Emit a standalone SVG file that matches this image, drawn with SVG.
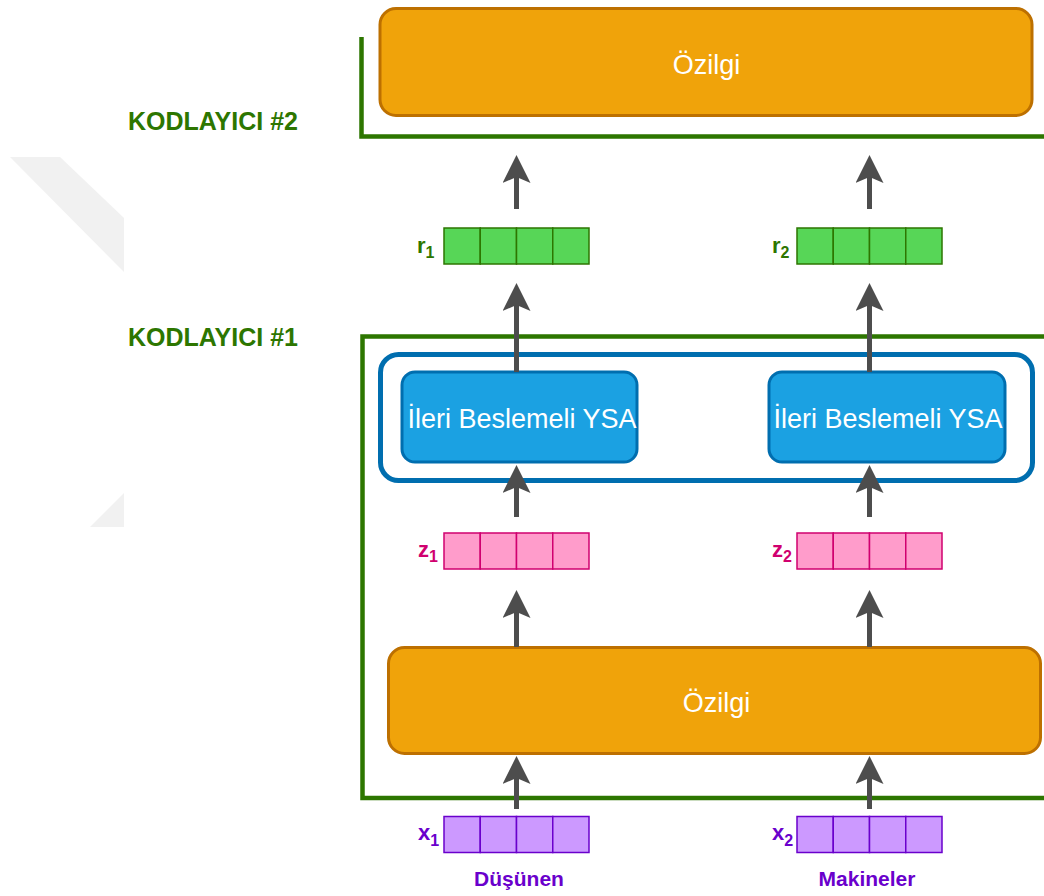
<svg xmlns="http://www.w3.org/2000/svg" width="1044" height="896" viewBox="0 0 1044 896">
<defs>
<style>
.lbl{font-family:"Liberation Sans",Arial,Helvetica,sans-serif;}
.grp{fill:none;stroke:#2d7600;stroke-width:4.5;}
.kod{font-family:"Liberation Sans",Arial,sans-serif;font-weight:bold;font-size:25px;fill:#2d7600;}
.ozl{fill:#f0a30a;stroke:#bd7000;stroke-width:3;}
.ff{fill:#1ba1e2;stroke:#006eaf;stroke-width:3;}
.wt{font-family:"Liberation Sans",Arial,Helvetica,sans-serif;fill:#ffffff;font-size:27px;text-anchor:middle;}
.cr{fill:#57d657;stroke:#2d7600;stroke-width:1.5;}
.cz{fill:#ff9ccb;stroke:#d0006f;stroke-width:1.5;}
.cx{fill:#cc99ff;stroke:#6a00cc;stroke-width:1.5;}
.vl{font-family:"Liberation Sans",Arial,sans-serif;font-weight:bold;font-size:22px;}
.sub{font-size:16px;}
.arr{stroke:#4d4d4d;stroke-width:5;fill:none;marker-end:url(#ah);}
.word{font-family:"Liberation Sans",Arial,sans-serif;font-weight:bold;font-size:21px;fill:#6a00cc;text-anchor:middle;}
</style>
<marker id="ah" viewBox="0 0 28 28" markerWidth="28" markerHeight="28" refX="8" refY="14" orient="auto" markerUnits="userSpaceOnUse">
<path d="M28,14 L0,0 L6,14 L0,28 Z" fill="#4d4d4d"/>
</marker>
</defs>
<rect width="1044" height="896" fill="#ffffff"/>
<g id="watermark" fill="#f1f1f1">
<polygon points="10,157 60,157 124,218 124,272"/>
<polygon points="90,527 124,493 124,527"/>
</g>
<g id="kodlayici2">
<polyline class="grp" points="361.5,37 361.5,136.5 1050,136.5"/>
<text class="kod" x="128" y="129.5">KODLAYICI #2</text>
</g>
<g id="kodlayici1">
<rect class="grp" x="362.5" y="336.5" width="700" height="461.5"/>
<text class="kod" x="128" y="346">KODLAYICI #1</text>
</g>
<g id="ozilgi2">
<rect class="ozl" x="380" y="8.5" width="652" height="107" rx="16"/>
<text class="wt" x="706.5" y="74">Özilgi</text>
</g>
<g id="ffgroup">
<rect x="380.5" y="354.5" width="652" height="126" rx="18" fill="none" stroke="#006eaf" stroke-width="5"/>
</g>
<g id="ff1">
<rect class="ff" x="402" y="372" width="235" height="90" rx="13"/>
<text class="wt" x="522" y="428">İleri Beslemeli YSA</text>
</g>
<g id="ff2">
<rect class="ff" x="769" y="372" width="236" height="90" rx="13"/>
<text class="wt" x="888" y="428">İleri Beslemeli YSA</text>
</g>
<g id="ozilgi1">
<rect class="ozl" x="388.5" y="647.5" width="652" height="106" rx="16"/>
<text class="wt" x="716.5" y="712">Özilgi</text>
</g>
<g id="r1">
<rect class="cr" x="444" y="228" width="36.25" height="36"/><rect class="cr" x="480.25" y="228" width="36.25" height="36"/><rect class="cr" x="516.5" y="228" width="36.25" height="36"/><rect class="cr" x="552.75" y="228" width="36.25" height="36"/>
<text class="vl" x="417" y="253" fill="#2d7600">r<tspan class="sub" dy="5">1</tspan></text>
</g>
<g id="r2">
<rect class="cr" x="797" y="228" width="36.25" height="36"/><rect class="cr" x="833.25" y="228" width="36.25" height="36"/><rect class="cr" x="869.5" y="228" width="36.25" height="36"/><rect class="cr" x="905.75" y="228" width="36.25" height="36"/>
<text class="vl" x="772" y="253" fill="#2d7600">r<tspan class="sub" dy="5">2</tspan></text>
</g>
<g id="z1">
<rect class="cz" x="444" y="533" width="36.25" height="36"/><rect class="cz" x="480.25" y="533" width="36.25" height="36"/><rect class="cz" x="516.5" y="533" width="36.25" height="36"/><rect class="cz" x="552.75" y="533" width="36.25" height="36"/>
<text class="vl" x="418" y="557" fill="#d0006f">z<tspan class="sub" dy="5">1</tspan></text>
</g>
<g id="z2">
<rect class="cz" x="797" y="533" width="36.25" height="36"/><rect class="cz" x="833.25" y="533" width="36.25" height="36"/><rect class="cz" x="869.5" y="533" width="36.25" height="36"/><rect class="cz" x="905.75" y="533" width="36.25" height="36"/>
<text class="vl" x="772" y="557" fill="#d0006f">z<tspan class="sub" dy="5">2</tspan></text>
</g>
<g id="x1">
<rect class="cx" x="444" y="816.5" width="36.25" height="36"/><rect class="cx" x="480.25" y="816.5" width="36.25" height="36"/><rect class="cx" x="516.5" y="816.5" width="36.25" height="36"/><rect class="cx" x="552.75" y="816.5" width="36.25" height="36"/>
<text class="vl" x="418" y="840" fill="#6a00cc">x<tspan class="sub" dy="6">1</tspan></text>
<text class="word" x="519" y="886">Düşünen</text>
</g>
<g id="x2">
<rect class="cx" x="797" y="816.5" width="36.25" height="36"/><rect class="cx" x="833.25" y="816.5" width="36.25" height="36"/><rect class="cx" x="869.5" y="816.5" width="36.25" height="36"/><rect class="cx" x="905.75" y="816.5" width="36.25" height="36"/>
<text class="vl" x="772" y="840" fill="#6a00cc">x<tspan class="sub" dy="6">2</tspan></text>
<text class="word" x="867" y="886">Makineler</text>
</g>
<g id="connectors">
<path class="arr" d="M516.5,209 L516.5,175"/>
<path class="arr" d="M869.5,209 L869.5,175"/>
<path class="arr" d="M516.5,372 L516.5,303"/>
<path class="arr" d="M869.5,372 L869.5,303"/>
<path class="arr" d="M516.5,517 L516.5,485"/>
<path class="arr" d="M869.5,517 L869.5,485"/>
<path class="arr" d="M516.5,647 L516.5,610"/>
<path class="arr" d="M869.5,647 L869.5,610"/>
<path class="arr" d="M516.5,809 L516.5,776"/>
<path class="arr" d="M869.5,809 L869.5,776"/>
</g>
</svg>
